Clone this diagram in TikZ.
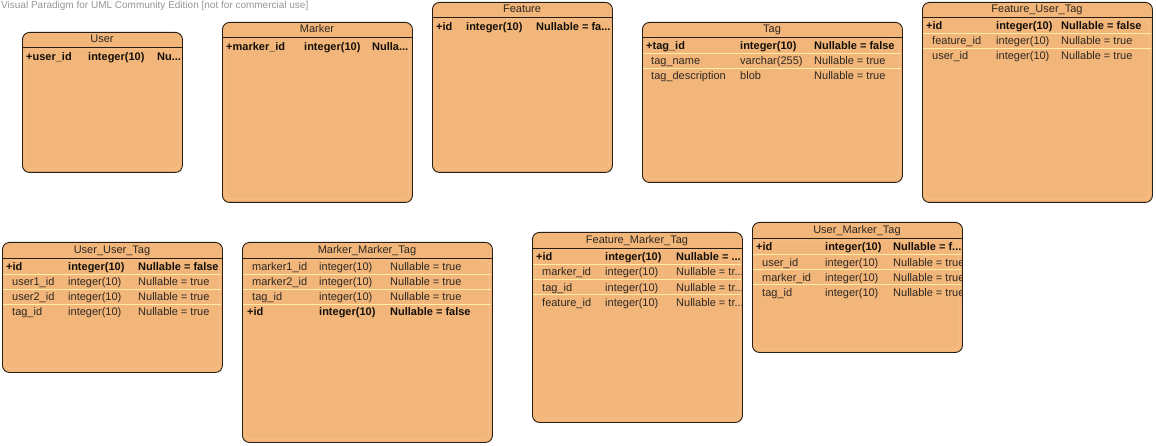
\documentclass[tikz,border=0pt]{standalone}
\usepackage{fontspec}
\setmainfont{Liberation Sans}
\definecolor{boxfill}{RGB}{243,182,122}
\definecolor{boxline}{RGB}{40,30,20}
\definecolor{innerline}{RGB}{248,196,142}
\definecolor{rowline}{RGB}{255,238,165}
\definecolor{txt}{RGB}{45,40,35}
\definecolor{pktxt}{RGB}{20,15,10}
\definecolor{wm}{RGB}{150,150,150}
\tikzset{
  tablebox/.style={draw=boxline, fill=boxfill, line width=0.9pt, rounded corners=7pt, inner sep=0pt},
  innerbox/.style={draw=innerline, line width=0.7pt, rounded corners=5pt},
  hdrline/.style={draw=boxline, line width=0.6pt},
  rowsep/.style={draw=rowline, line width=0.8pt},
  cell/.style={anchor=base west, inner sep=0pt, text=txt, font=\fontsize{11}{13}\selectfont},
  pkcell/.style={cell, text=pktxt, font=\fontsize{11}{13}\selectfont\bfseries},
  titletext/.style={anchor=base, inner sep=0pt, text=txt, font=\fontsize{11}{13}\selectfont},
  wmtext/.style={anchor=base west, inner sep=0pt, text=wm, font=\fontsize{10}{12}\selectfont}
}
% #1 name, #2 x1, #3 y1, #4 x2, #5 y2, #6 title, #7 separator y
\newcommand\dbtable[7]{%
  \node[tablebox, anchor=north west, minimum width={#4-#2}, minimum height={#5-#3}] (#1) at (#2,#3) {};
  \draw[innerbox] ({#2+3},{#7+2}) rectangle ({#4-3},{#5-3});
  \draw[hdrline] (#1.west |- 0,#7) -- (#1.east |- 0,#7);
  \node[titletext] (#1-title) at ({(#2+#4)/2},{#7-4}) {#6};
}
\newcommand\rowsepline[3]{% x1 x2 y
  \draw[rowsep] ({#1+1},#3) -- ({#2-1},#3);
}
\begin{document}
\begin{tikzpicture}[x=1pt,y=-1pt]
\useasboundingbox (0,0) rectangle (1156,446);
\node[wmtext] (wm) at (1,9) {Visual Paradigm for UML Community Edition [not for commercial use]};

% User
\dbtable{user}{22}{32}{182}{172}{User}{47}
\node[pkcell] (user-r1a) at (26,61) {+user\_id};
\node[pkcell] (user-r1b) at (88,61) {integer(10)};
\node[pkcell] (user-r1c) at (157,61) {Nu...};

% Marker
\dbtable{marker}{222}{22}{412}{202}{Marker}{37}
\node[pkcell] (marker-r1a) at (226,51) {+marker\_id};
\node[pkcell] (marker-r1b) at (304,51) {integer(10)};
\node[pkcell] (marker-r1c) at (372,51) {Nulla...};

% Feature
\dbtable{feature}{432}{2}{612}{172}{Feature}{17}
\node[pkcell] (feature-r1a) at (436,31) {+id};
\node[pkcell] (feature-r1b) at (466,31) {integer(10)};
\node[pkcell] (feature-r1c) at (536,31) {Nullable = fa...};

% Tag
\dbtable{tag}{642}{22}{902}{182}{Tag}{37}
\rowsepline{642}{902}{53.5}
\rowsepline{642}{902}{68.5}
\node[pkcell] (tag-r1a) at (646,50) {+tag\_id};
\node[pkcell] (tag-r1b) at (740,50) {integer(10)};
\node[pkcell] (tag-r1c) at (814,50) {Nullable = false};
\node[cell] (tag-r2a) at (651,65) {tag\_name};
\node[cell] (tag-r2b) at (740,65) {varchar(255)};
\node[cell] (tag-r2c) at (814,65) {Nullable = true};
\node[cell] (tag-r3a) at (651,80) {tag\_description};
\node[cell] (tag-r3b) at (740,80) {blob};
\node[cell] (tag-r3c) at (814,80) {Nullable = true};

% Feature_User_Tag
\dbtable{fut}{922}{2}{1152}{202}{Feature\_User\_Tag}{17}
\rowsepline{922}{1152}{33.5}
\rowsepline{922}{1152}{48.5}
\node[pkcell] (fut-r1a) at (926,30) {+id};
\node[pkcell] (fut-r1b) at (996,30) {integer(10)};
\node[pkcell] (fut-r1c) at (1061,30) {Nullable = false};
\node[cell] (fut-r2a) at (932,45) {feature\_id};
\node[cell] (fut-r2b) at (996,45) {integer(10)};
\node[cell] (fut-r2c) at (1061,45) {Nullable = true};
\node[cell] (fut-r3a) at (932,60) {user\_id};
\node[cell] (fut-r3b) at (996,60) {integer(10)};
\node[cell] (fut-r3c) at (1061,60) {Nullable = true};

% User_User_Tag
\dbtable{uut}{2}{242}{222}{372}{User\_User\_Tag}{258}
\rowsepline{2}{222}{274.5}
\rowsepline{2}{222}{289.5}
\rowsepline{2}{222}{304.5}
\node[pkcell] (uut-r1a) at (6,271) {+id};
\node[pkcell] (uut-r1b) at (68,271) {integer(10)};
\node[pkcell] (uut-r1c) at (138,271) {Nullable = false};
\node[cell] (uut-r2a) at (12,286) {user1\_id};
\node[cell] (uut-r2b) at (68,286) {integer(10)};
\node[cell] (uut-r2c) at (138,286) {Nullable = true};
\node[cell] (uut-r3a) at (12,301) {user2\_id};
\node[cell] (uut-r3b) at (68,301) {integer(10)};
\node[cell] (uut-r3c) at (138,301) {Nullable = true};
\node[cell] (uut-r4a) at (12,316) {tag\_id};
\node[cell] (uut-r4b) at (68,316) {integer(10)};
\node[cell] (uut-r4c) at (138,316) {Nullable = true};

% Marker_Marker_Tag
\dbtable{mmt}{242}{242}{492}{442}{Marker\_Marker\_Tag}{258}
\rowsepline{242}{492}{274.5}
\rowsepline{242}{492}{289.5}
\rowsepline{242}{492}{304.5}
\node[cell] (mmt-r1a) at (252,271) {marker1\_id};
\node[cell] (mmt-r1b) at (319,271) {integer(10)};
\node[cell] (mmt-r1c) at (390,271) {Nullable = true};
\node[cell] (mmt-r2a) at (252,286) {marker2\_id};
\node[cell] (mmt-r2b) at (319,286) {integer(10)};
\node[cell] (mmt-r2c) at (390,286) {Nullable = true};
\node[cell] (mmt-r3a) at (252,301) {tag\_id};
\node[cell] (mmt-r3b) at (319,301) {integer(10)};
\node[cell] (mmt-r3c) at (390,301) {Nullable = true};
\node[pkcell] (mmt-r4a) at (247,316) {+id};
\node[pkcell] (mmt-r4b) at (319,316) {integer(10)};
\node[pkcell] (mmt-r4c) at (390,316) {Nullable = false};

% Feature_Marker_Tag
\dbtable{fmt}{532}{232}{742}{422}{Feature\_Marker\_Tag}{248}
\rowsepline{532}{742}{264.5}
\rowsepline{532}{742}{279.5}
\rowsepline{532}{742}{294.5}
\node[pkcell] (fmt-r1a) at (536,261) {+id};
\node[pkcell] (fmt-r1b) at (605,261) {integer(10)};
\node[pkcell] (fmt-r1c) at (676,261) {Nullable = ...};
\node[cell] (fmt-r2a) at (542,276) {marker\_id};
\node[cell] (fmt-r2b) at (605,276) {integer(10)};
\node[cell] (fmt-r2c) at (676,276) {Nullable = tr...};
\node[cell] (fmt-r3a) at (542,291) {tag\_id};
\node[cell] (fmt-r3b) at (605,291) {integer(10)};
\node[cell] (fmt-r3c) at (676,291) {Nullable = tr...};
\node[cell] (fmt-r4a) at (542,306) {feature\_id};
\node[cell] (fmt-r4b) at (605,306) {integer(10)};
\node[cell] (fmt-r4c) at (676,306) {Nullable = tr...};

% User_Marker_Tag
\dbtable{umt}{752}{222}{962}{352}{User\_Marker\_Tag}{238}
\rowsepline{752}{962}{254.5}
\rowsepline{752}{962}{269.5}
\rowsepline{752}{962}{284.5}
\node[pkcell] (umt-r1a) at (756,251) {+id};
\node[pkcell] (umt-r1b) at (825,251) {integer(10)};
\node[pkcell] (umt-r1c) at (893,251) {Nullable = f...};
\node[cell] (umt-r2a) at (762,266) {user\_id};
\node[cell] (umt-r2b) at (825,266) {integer(10)};
\node[cell] (umt-r3a) at (762,281) {marker\_id};
\node[cell] (umt-r3b) at (825,281) {integer(10)};
\node[cell] (umt-r4a) at (762,296) {tag\_id};
\node[cell] (umt-r4b) at (825,296) {integer(10)};
\begin{scope}
  \clip (752,222) rectangle (961,352);
  \node[cell] (umt-r2c) at (893,266) {Nullable = true};
  \node[cell] (umt-r3c) at (893,281) {Nullable = true};
  \node[cell] (umt-r4c) at (893,296) {Nullable = true};
\end{scope}
\end{tikzpicture}
\end{document}
